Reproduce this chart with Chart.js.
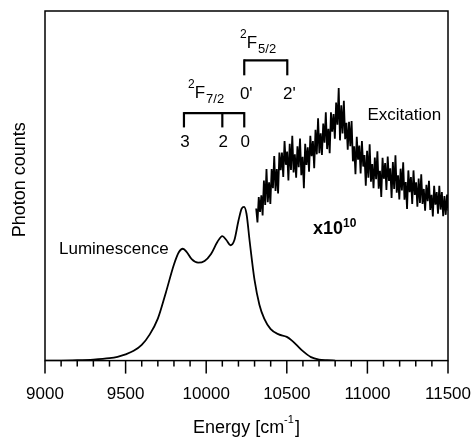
<!DOCTYPE html>
<html>
<head>
<meta charset="utf-8">
<script src="https://cdn.jsdelivr.net/npm/chart.js@4/dist/chart.umd.min.js"></script>
<style>
  body { margin: 0; background: #fff; }
  #caja { width: 474px; height: 441px; }
</style>
</head>
<body>
<div id="caja"><canvas id="grafico"></canvas></div>
<script>
// Luminiscencia (energía en cm-1, intensidad relativa)
const lumEnergia = [9000, 9100, 9200, 9300, 9400, 9450, 9500, 9550, 9600, 9650, 9700, 9750, 9800, 9830, 9855, 9880, 9910, 9950, 9990, 10030, 10070, 10100, 10125, 10150, 10175, 10200, 10220, 10235, 10250, 10270, 10300, 10330, 10360, 10400, 10450, 10500, 10530, 10560, 10600, 10650, 10700, 10750, 10800];
const lumValores = [0, 0, 0.001, 0.003, 0.007, 0.011, 0.018, 0.028, 0.045, 0.075, 0.12, 0.195, 0.275, 0.31, 0.32, 0.31, 0.29, 0.28, 0.285, 0.305, 0.34, 0.356, 0.345, 0.33, 0.345, 0.40, 0.435, 0.44, 0.42, 0.34, 0.23, 0.16, 0.12, 0.09, 0.075, 0.068, 0.058, 0.045, 0.027, 0.01, 0.003, 0.001, 0];

// Excitación (x10^10), un punto cada 8 cm-1 desde 10310
const excInicio = 10310;
const excPaso = 8;
const excValores = [
  0.435, 0.395, 0.468, 0.425, 0.473, 0.415, 0.515, 0.445, 0.548, 0.453,
  0.51, 0.448, 0.548, 0.493, 0.585, 0.485, 0.548, 0.478, 0.595, 0.545,
  0.595, 0.525, 0.628, 0.56, 0.598, 0.515, 0.62, 0.545, 0.643, 0.538,
  0.59, 0.523, 0.613, 0.553, 0.635, 0.53, 0.583, 0.493, 0.62, 0.56,
  0.61, 0.54, 0.643, 0.585, 0.628, 0.55, 0.66, 0.59, 0.693, 0.593,
  0.65, 0.588, 0.678, 0.623, 0.71, 0.605, 0.663, 0.593, 0.71, 0.655,
  0.705, 0.635, 0.738, 0.675, 0.78, 0.63, 0.73, 0.65, 0.743, 0.633,
  0.68, 0.603, 0.683, 0.613, 0.685, 0.57, 0.613, 0.533, 0.64, 0.575,
  0.615, 0.535, 0.628, 0.555, 0.588, 0.50, 0.60, 0.523, 0.619, 0.512,
  0.562, 0.493, 0.581, 0.519, 0.599, 0.492, 0.543, 0.468, 0.58, 0.52,
  0.565, 0.488, 0.584, 0.514, 0.55, 0.465, 0.568, 0.491, 0.587, 0.48,
  0.53, 0.461, 0.549, 0.487, 0.567, 0.46, 0.511, 0.434, 0.544, 0.482,
  0.525, 0.448, 0.544, 0.474, 0.51, 0.44, 0.521, 0.451, 0.533, 0.448,
  0.491, 0.429, 0.503, 0.456, 0.514, 0.431, 0.474, 0.412, 0.50, 0.446,
  0.482, 0.42, 0.50, 0.432, 0.482, 0.413, 0.471, 0.417, 0.475, 0.429
];

// Niveles de los multipletes
const nivelesF72 = [9862, 10100, 10236];
const etiquetasF72 = ['3', '2', '0'];
const nivelesF52 = [10236, 10503];
const etiquetasF52 = ["0'", "2'"];

const fuente = '"Liberation Sans", Arial, sans-serif';

// Marco, marcas del eje y textos
const dibujoExtra = {
  id: 'dibujoExtra',
  afterDraw(chart) {
    const { ctx, chartArea: a, scales: { x, y } } = chart;
    ctx.save();
    ctx.strokeStyle = '#000';
    ctx.fillStyle = '#000';
    ctx.lineWidth = 1.5;
    ctx.strokeRect(a.left, a.top, a.right - a.left, a.bottom - a.top);

    // marcas hacia fuera
    x.ticks.forEach(t => {
      const px = x.getPixelForValue(t.value);
      const largo = t.value % 500 === 0 ? 13 : 6;
      ctx.beginPath();
      ctx.moveTo(px, a.bottom);
      ctx.lineTo(px, a.bottom + largo);
      ctx.stroke();
    });

    // corchetes de niveles
    function corchete(niveles, arriba, abajo) {
      const yA = y.getPixelForValue(arriba);
      const yB = y.getPixelForValue(abajo);
      ctx.lineWidth = 2.2;
      ctx.beginPath();
      ctx.moveTo(x.getPixelForValue(niveles[0]), yA);
      ctx.lineTo(x.getPixelForValue(niveles[niveles.length - 1]), yA);
      ctx.stroke();
      niveles.forEach(n => {
        const px = x.getPixelForValue(n);
        ctx.beginPath();
        ctx.moveTo(px, yA - 1);
        ctx.lineTo(px, yB);
        ctx.stroke();
      });
    }
    corchete(nivelesF72, 0.708, 0.667);
    corchete(nivelesF52, 0.859, 0.816);

    ctx.font = '17px ' + fuente;
    ctx.textAlign = 'center';
    ctx.textBaseline = 'alphabetic';
    nivelesF72.forEach((n, i) => {
      ctx.fillText(etiquetasF72[i], x.getPixelForValue(n) + 1, y.getPixelForValue(0.61));
    });
    nivelesF52.forEach((n, i) => {
      ctx.fillText(etiquetasF52[i], x.getPixelForValue(n) + 2, y.getPixelForValue(0.747));
    });

    // término espectroscópico 2F_j
    function termino(energia, valor, sub) {
      let px = x.getPixelForValue(energia);
      const py = y.getPixelForValue(valor);
      ctx.textAlign = 'left';
      ctx.font = '12px ' + fuente;
      ctx.fillText('2', px, py - 10);
      px += ctx.measureText('2').width;
      ctx.font = '17px ' + fuente;
      ctx.fillText('F', px, py);
      px += ctx.measureText('F').width + 1;
      ctx.font = '13px ' + fuente;
      ctx.fillText(sub, px, py + 5);
    }
    termino(9887, 0.75, '7/2');
    termino(10210, 0.894, '5/2');

    ctx.font = '17px ' + fuente;
    ctx.textAlign = 'left';
    ctx.fillText('Luminescence', x.getPixelForValue(9087), y.getPixelForValue(0.305));
    ctx.fillText('Excitation', x.getPixelForValue(11000), y.getPixelForValue(0.688));

    // factor de escala
    let px = x.getPixelForValue(10663);
    const py = y.getPixelForValue(0.362);
    ctx.font = 'bold 18px ' + fuente;
    ctx.fillText('x10', px, py);
    px += ctx.measureText('x10').width;
    ctx.font = 'bold 12px ' + fuente;
    ctx.fillText('10', px, py - 7);

    // títulos de ejes
    const t1 = 'Energy [cm';
    ctx.font = '11px ' + fuente;
    const wSup = ctx.measureText('-1').width;
    ctx.font = '18px ' + fuente;
    const wTotal = ctx.measureText(t1).width + wSup + 1 + ctx.measureText(']').width;
    let tx = (a.left + a.right) / 2 - wTotal / 2;
    const ty = 433;
    ctx.fillText(t1, tx, ty);
    tx += ctx.measureText(t1).width;
    ctx.font = '11px ' + fuente;
    ctx.fillText('-1', tx, ty - 10);
    tx += wSup + 1;
    ctx.font = '18px ' + fuente;
    ctx.fillText(']', tx, ty);

    ctx.translate(25, (a.top + a.bottom) / 2 - 6);
    ctx.rotate(-Math.PI / 2);
    ctx.textAlign = 'center';
    ctx.fillText('Photon counts', 0, 0);
    ctx.restore();
  }
};

const datosLum = lumEnergia.map((e, i) => ({ x: e, y: lumValores[i] }));
const datosExc = excValores.map((v, i) => ({ x: excInicio + i * excPaso, y: v }));

new Chart(document.getElementById('grafico'), {
  type: 'line',
  data: {
    datasets: [
      {
        label: 'Luminescence',
        data: datosLum,
        borderColor: '#000',
        borderWidth: 1.8,
        pointRadius: 0,
        cubicInterpolationMode: 'monotone'
      },
      {
        label: 'Excitation',
        data: datosExc,
        borderColor: '#000',
        borderWidth: 1.8,
        pointRadius: 0,
        tension: 0
      }
    ]
  },
  options: {
    responsive: true,
    maintainAspectRatio: false,
    animation: false,
    layout: { padding: { left: 45, right: 26, top: 11, bottom: 34 } },
    plugins: { legend: { display: false }, tooltip: { enabled: false } },
    scales: {
      x: {
        type: 'linear',
        min: 9000,
        max: 11500,
        // las marcas se dibujan aparte; tickLength solo separa las etiquetas
        grid: { display: false, drawTicks: true, tickLength: 22 },
        border: { display: false },
        ticks: {
          stepSize: 100,
          autoSkip: false,
          maxRotation: 0,
          padding: 2,
          color: '#000',
          font: { size: 17, family: fuente },
          callback: v => (v % 500 === 0 ? v : '')
        }
      },
      y: { display: false, min: 0, max: 1 }
    }
  },
  plugins: [dibujoExtra]
});
</script>
</body>
</html>
